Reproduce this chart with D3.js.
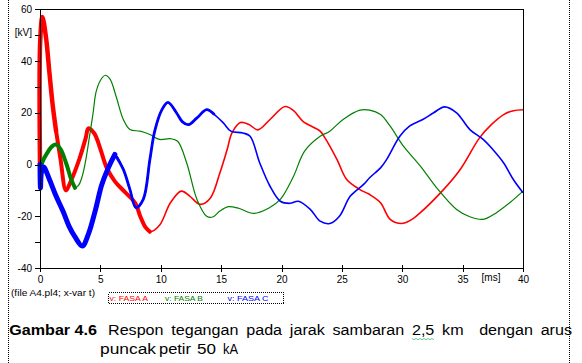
<!DOCTYPE html>
<html>
<head>
  <meta charset="utf-8">
  <style>
    body { margin: 0; background: #fff; }
    svg { display: block; }
    .axis path, .axis line { fill: none; stroke: #000; shape-rendering: crispEdges; }
    .axis text { fill: #000; }
  </style>
  <script src="https://d3js.org/d3.v7.min.js"></script>
</head>
<body>
<script>
  // time [ms], voltage [kV]
  var faseA = [[0,0],[0.02,48],[0.2,57],[0.5,49],[0.77,36],[1.05,23],[1.33,13],[1.7,2],[2.15,-10],[2.5,-7],
    [3.25,2],[3.8,10.5],[4.0,14],[4.5,12],[5.0,6],[5.5,-1],[6.2,-6.5],[7.0,-10.5],[7.9,-15],[8.3,-20],
    [8.7,-24],[9.1,-26],[9.9,-23.5],[10.8,-14.8],[11.7,-10.3],[12.4,-12.2],[13.25,-15.4],[14.1,-13],
    [14.9,-3.2],[15.5,5.8],[15.9,12.2],[16.6,16.2],[17.3,15.5],[18.05,13.4],[19.05,17.4],[20.3,22.4],
    [21.0,20.8],[21.8,16.6],[23.2,12.9],[23.6,10.3],[24.6,1.9],[25.4,-5.8],[26.5,-9.7],[27.3,-11.6],
    [28.2,-14.8],[29.0,-21.2],[29.95,-22.8],[30.7,-21.5],[31.5,-18.6],[33.3,-10.3],[34.8,-1.9],
    [36.4,10.3],[37.4,15.5],[38.4,19.3],[39.2,20.8],[40,21.2]];

  var faseB = [[0,-2.5],[0.2,1],[0.6,4.5],[1.0,7],[1.33,7.7],[1.7,6],[2.2,0],[2.6,-6],[2.9,-9],[3.2,-8],
    [3.5,-4.5],[3.8,2],[4.1,10.9],[4.4,20],[4.64,28],[5.0,32.5],[5.4,34.5],[5.8,33],[6.3,26.4],
    [6.9,17.4],[7.45,13.5],[8.3,12.9],[9.1,11.6],[9.9,9.7],[10.8,10],[11.4,9],[12.15,0.6],[13,-13.5],
    [13.8,-20],[14.3,-20.3],[14.9,-18],[15.6,-16.3],[16.5,-17],[17.7,-18.9],[19,-16.7],[19.9,-13.5],
    [21,-4.5],[21.9,5.1],[23.2,10.9],[24,12.9],[25.1,17.4],[26.5,21],[27.3,21],[28.2,19.3],[29,14.8],
    [30.1,7.1],[31.5,-0.6],[32.85,-9],[34.5,-17.4],[35.6,-20.2],[36.7,-21.2],[37.8,-18.6],[38.9,-14.8],
    [40,-10.3]];

  var faseC = [[0,0],[0.04,-9],[0.12,-3],[0.3,-1],[0.8,-6],[1.33,-12.2],[1.9,-18],[2.4,-23.8],[2.9,-28],
    [3.5,-31.5],[4.0,-27],[4.6,-17.4],[5.1,-8],[5.6,-1.9],[6.2,3.9],[6.9,-1.9],[7.45,-9.7],[7.95,-16.7],
    [8.55,-13.5],[9.1,1.9],[9.5,12.9],[10.1,21.2],[10.6,24],[11.3,20],[11.8,16.5],[12.3,15.4],[13,18],
    [13.8,21.2],[14.4,19.5],[15.2,16],[15.8,12.9],[16.8,12.2],[17.4,10.9],[18.2,0.6],[19.05,-8.4],
    [19.9,-14.2],[20.7,-15],[21.4,-14.2],[22.4,-17.4],[23.2,-21.9],[24,-22.8],[24.8,-20],[25.7,-12.2],
    [26.8,-7.7],[27.3,-5.1],[28.2,-1.3],[28.7,1.9],[29.8,10.9],[30.6,14.8],[31.7,17.4],[32.6,20],
    [33.5,22.3],[34.5,20],[35.6,13.5],[36.7,9.7],[37.5,5.8],[38.4,0.6],[39.2,-5.8],[40,-10.9]];

  var xTicks = [0, 5, 10, 15, 20, 25, 30, 35, 40];
  var yTicks = [-40, -30, -20, -10, 0, 10, 20, 30, 40, 50, 60];
  var legendNames = ["v: FASA A", "v: FASA B", "v: FASA C"];
  var colors = ["#ff0000", "#008000", "#0000ff"];

  var FONT = "'Liberation Sans', Arial, sans-serif";

  var svg = d3.select("body").append("svg")
    .attr("width", 582)
    .attr("height", 363);

  var x = d3.scaleLinear().domain([0, 40]).range([40, 523]);
  var y = d3.scaleLinear().domain([-40, 60]).range([268, 9.3]);

  // frame top + right
  svg.append("path")
    .attr("d", "M40," + y(60) + "H" + x(40) + "V" + y(-40))
    .attr("fill", "none")
    .attr("stroke", "#000")
    .attr("shape-rendering", "crispEdges");

  // curves
  var line = d3.line()
    .x(function(d) { return x(d[0]); })
    .y(function(d) { return y(d[1]); })
    .curve(d3.curveCatmullRom.alpha(0.5));

  var plot = svg.append("g");

  // thick parts = fast oscillation bands at the start
  var series = [
    { data: faseA, color: colors[0], w: 1.6, bands: [[0, 1.4, 4.5], [1.3, 9.4, 4]] },
    { data: faseB, color: colors[1], w: 1.2, bands: [[0, 3.1, 4]] },
    { data: faseC, color: colors[2], w: 1.6, bands: [[0, 6.3, 5], [6.2, 14.5, 2.8]] }
  ];

  series.forEach(function(s) {
    plot.append("path")
      .attr("d", line(s.data))
      .attr("fill", "none")
      .attr("stroke", s.color)
      .attr("stroke-width", s.w);
    s.bands.forEach(function(b) {
      var part = s.data.filter(function(d) { return d[0] >= b[0] && d[0] <= b[1]; });
      plot.append("path")
        .attr("d", line(part))
        .attr("fill", "none")
        .attr("stroke", s.color)
        .attr("stroke-width", b[2])
        .attr("stroke-linecap", "round");
    });
  });

  // y axis
  var yAxis = svg.append("g")
    .attr("class", "axis")
    .attr("transform", "translate(40,0)")
    .call(d3.axisLeft(y).tickValues(yTicks).tickSize(5).tickSizeOuter(0).tickPadding(3)
      .tickFormat(function(d) { return d === 50 ? "[kV]" : (d % 20 === 0 ? d : ""); }));
  yAxis.attr("font-family", FONT).attr("font-size", 10);
  yAxis.selectAll(".tick text")
    .filter(function(d) { return d === 50; })
    .attr("y", -3);

  // x axis
  var xAxis = svg.append("g")
    .attr("class", "axis")
    .attr("transform", "translate(0," + y(-40) + ")")
    .call(d3.axisBottom(x).tickValues(xTicks).tickSize(4).tickSizeOuter(0).tickPadding(4));
  xAxis.attr("font-family", FONT).attr("font-size", 10);
  xAxis.selectAll(".tick line").attr("y1", -3);

  svg.append("text")
    .attr("x", 491)
    .attr("y", 281)
    .attr("text-anchor", "middle")
    .attr("font-family", FONT)
    .attr("font-size", 10)
    .text("[ms]");

  svg.append("text")
    .attr("x", 11)
    .attr("y", 296)
    .attr("font-family", FONT)
    .attr("font-size", 9.5)
    .attr("textLength", 84)
    .attr("lengthAdjust", "spacingAndGlyphs")
    .text("(file A4.pl4; x-var t)");

  // legend
  svg.append("rect")
    .attr("x", 108.5)
    .attr("y", 292.5)
    .attr("width", 175)
    .attr("height", 11)
    .attr("fill", "none")
    .attr("stroke", "#000")
    .attr("stroke-dasharray", "1,1")
    .attr("shape-rendering", "crispEdges");

  var legendX = [109.5, 165, 227.5];
  var legendW = [38.5, 38, 41];
  legendNames.forEach(function(n, i) {
    svg.append("text")
      .attr("x", legendX[i])
      .attr("y", 301)
      .attr("font-family", FONT)
      .attr("font-size", 7.5)
      .attr("fill", colors[i])
      .attr("textLength", legendW[i])
      .attr("lengthAdjust", "spacingAndGlyphs")
      .text(n);
  });

  // caption
  var cap = svg.append("g")
    .attr("font-family", FONT)
    .attr("font-size", 14)
    .attr("fill", "#000");

  cap.append("text")
    .attr("x", 9.3)
    .attr("y", 335)
    .attr("font-weight", "bold")
    .attr("textLength", 87.7)
    .attr("lengthAdjust", "spacingAndGlyphs")
    .text("Gambar 4.6");

  var STRETCH = 1.15;
  function placeWords(words, x0, x1, yb, weights) {
    var nodes = words.map(function(w) {
      return cap.append("text").attr("y", yb).text(w);
    });
    var widths = nodes.map(function(n) { return n.node().getComputedTextLength() * STRETCH; });
    var total = d3.sum(widths);
    var units = d3.sum(weights);
    var gap = (x1 - x0 - total) / units;
    var cx = x0;
    nodes.forEach(function(n, i) {
      n.attr("x", cx).attr("textLength", widths[i]).attr("lengthAdjust", "spacingAndGlyphs");
      cx += widths[i] + (i < weights.length ? weights[i] * gap : 0);
    });
    return nodes;
  }

  var line1 = ["Respon", "tegangan", "pada", "jarak", "sambaran", "2,5", "km", "dengan", "arus"];
  var w1 = placeWords(line1, 108, 572, 335, [1, 1, 1, 1, 1, 1, 2, 1]);

  // spell-check squiggle under "2,5"
  var sq = w1[5];
  var sx = +sq.attr("x"), sw = +sq.attr("textLength");
  var pts = [];
  for (var i = 0; i <= Math.round(sw / 2); i++) {
    pts.push([sx + i * 2, 338.5 + (i % 2 ? 1.2 : 0)]);
  }
  svg.append("path")
    .attr("d", d3.line()(pts))
    .attr("fill", "none")
    .attr("stroke", "#3cb371")
    .attr("stroke-width", 0.8);

  var line2 = [["puncak", 100, 56], ["petir", 159, 32], ["50", 197, 19], ["kA", 223, 15]];
  line2.forEach(function(w) {
    cap.append("text")
      .attr("x", w[1])
      .attr("y", 354)
      .attr("textLength", w[2])
      .attr("lengthAdjust", "spacingAndGlyphs")
      .text(w[0]);
  });

  // dotted page margins
  [8.5, 569.5].forEach(function(px) {
    svg.append("line")
      .attr("x1", px).attr("x2", px)
      .attr("y1", 0).attr("y2", 363)
      .attr("stroke", "#000")
      .attr("stroke-dasharray", "1,1");
  });
</script>
</body>
</html>
